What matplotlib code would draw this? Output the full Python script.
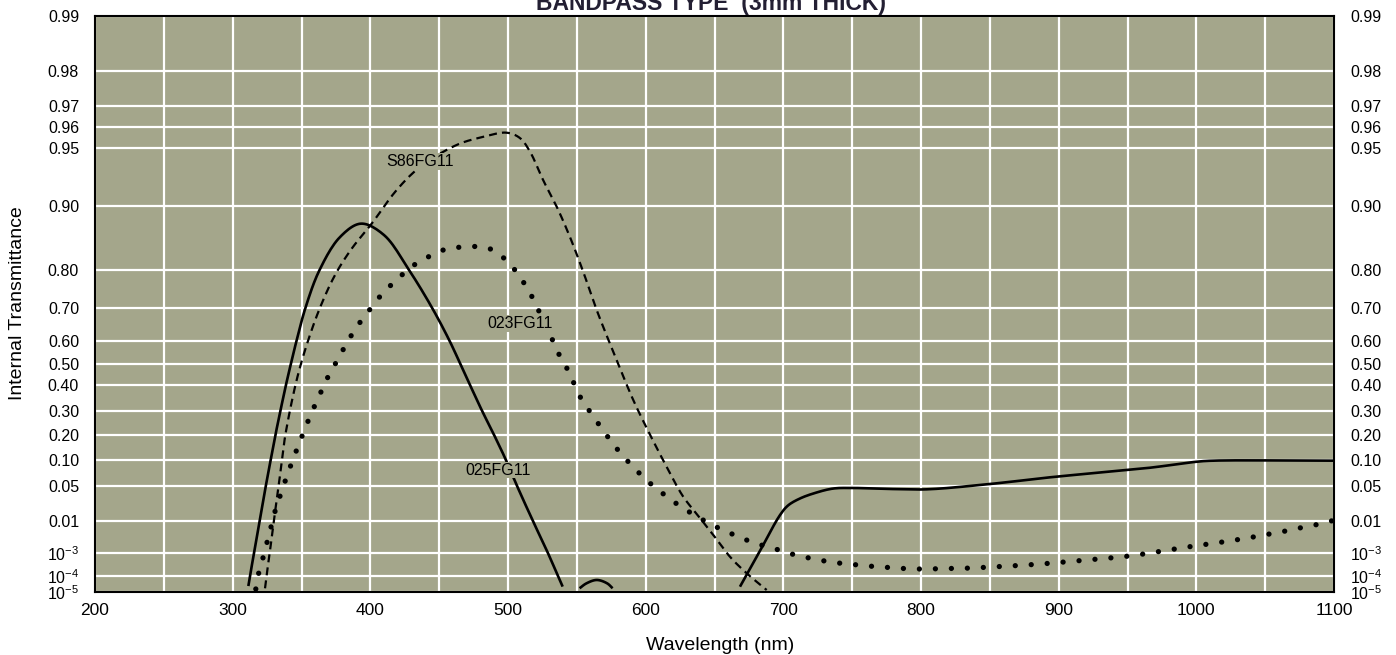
import numpy as np
import matplotlib
matplotlib.use("Agg")
import matplotlib.pyplot as plt
from matplotlib.ticker import NullLocator

plt.rcParams["font.family"] = ["Liberation Sans", "DejaVu Sans"]
plt.rcParams["mathtext.fontset"] = "custom"
plt.rcParams["mathtext.rm"] = "Liberation Sans"
plt.rcParams["mathtext.it"] = "Liberation Sans:italic"
plt.rcParams["mathtext.bf"] = "Liberation Sans:bold"

BG = "#A4A68B"

# ---- transmittance grid values and their heights on the chart (0 = bottom, 1 = top)
y_ticks = [1e-5, 1e-4, 1e-3, 0.01, 0.05, 0.10, 0.20, 0.30, 0.40, 0.50,
           0.60, 0.70, 0.80, 0.90, 0.95, 0.96, 0.97, 0.98, 0.99]
y_tick_frac = [0.0, 0.0278, 0.0677, 0.1233, 0.1845, 0.2292, 0.2731, 0.3148,
               0.3594, 0.3953, 0.4363, 0.4936, 0.5590, 0.6710, 0.7708,
               0.8073, 0.8432, 0.9050, 1.0]
y_tick_labels = [r"$10^{-5}$", r"$10^{-4}$", r"$10^{-3}$", "0.01", "0.05",
                 "0.10", "0.20", "0.30", "0.40", "0.50", "0.60", "0.70",
                 "0.80", "0.90", "0.95", "0.96", "0.97", "0.98", "0.99"]

x_ticks = [200, 300, 400, 500, 600, 700, 800, 900, 1000, 1100]

# ---- 025FG11 (solid), three branches
wl_025a = [311.4, 312.6, 315.5, 319.6, 324.1, 327.6, 331.1, 334.7, 338.7,
           342.2, 346.4, 352.9, 363.1, 378.0, 393.2, 409.9, 428.1, 444.8,
           457.5, 465.5, 472.4, 481.1, 489.8, 498.5, 506.5, 518.1, 529.0,
           536.3, 539.7]
t_025a = [2.5e-5, 1e-4, 1e-3, 0.01, 0.05, 0.10, 0.20, 0.30, 0.40, 0.50,
          0.60, 0.70, 0.80, 0.859, 0.878, 0.862, 0.80, 0.70, 0.60, 0.50,
          0.40, 0.30, 0.20, 0.10, 0.05, 0.01, 1e-3, 1e-4, 2.3e-5]
wl_025b = [552, 557, 564.5, 572, 576]
t_025b = [1.8e-5, 3.7e-5, 5.9e-5, 3.7e-5, 1.8e-5]
wl_025c = [668.5, 683.0, 697.6, 703.4, 712.1, 723.0, 736.1, 749.9, 779.6,
           804.1, 850.1, 893.7, 930.0, 966.3, 1000.3, 1012.1, 1100]
t_025c = [2.27e-5, 1.19e-3, 0.0138, 0.0221, 0.0302, 0.0379, 0.045, 0.046,
          0.0442, 0.0437, 0.0527, 0.064, 0.073, 0.0827, 0.096, 0.0984,
          0.0984]

# ---- S86FG11 (dashed)
wl_s86 = [323.5, 324.6, 326.9, 329.9, 333.4, 335.8, 338.3, 346.5, 354.9,
          364.7, 375.1, 386.7, 401.0, 419.2, 436.1, 462.7, 482.1, 499.1,
          508.7, 516.0, 525.6, 535.4, 545.0, 554.7, 564.4, 578.9, 591.0,
          600.7, 615.3, 627.3, 637.1, 649.1, 661.2, 673.4, 687.9]
t_s86 = [1.78e-5, 1e-4, 1e-3, 0.01, 0.05, 0.10, 0.20, 0.425, 0.602, 0.713,
         0.793, 0.841, 0.878, 0.917, 0.937, 0.9516, 0.9556, 0.9575, 0.955,
         0.9477, 0.926, 0.8986, 0.859, 0.7955, 0.6937, 0.519, 0.341, 0.227,
         0.0842, 0.0325, 0.0146, 0.0041, 7.2e-4, 1.36e-4, 1.37e-5]

# ---- 023FG11 (dotted)
wl_023 = [316.8, 318.8, 321.7, 324.9, 327.8, 330.9, 334.5, 338.2, 342.3,
          346.4, 350.8, 355.1, 359.8, 364.6, 369.7, 375.5, 381.1, 387.1,
          393.7, 400.7, 408.2, 416.2, 425.2, 434.4, 444.8, 455.7, 467.1,
          474.4, 485.8, 495.8, 504.2, 511.3, 517.1, 522.4, 532.6, 537.5,
          542.8, 553.9, 560.4, 567, 574.3, 581.5, 589.6, 598, 607, 616.5,
          626.2, 636.4, 646.5, 657.5, 668.4, 679.8, 691.4, 702.8, 714.4,
          726, 738, 749.6, 761.7, 773.6, 785.5, 797.6, 809.5, 821, 837.6,
          849.2, 861, 872.7, 884.1, 920, 945, 966.5, 978, 989.6, 1001.2,
          1012.6, 1024.2, 1035.9, 1047.3, 1059, 1070.5, 1082.2, 1093.3, 1100]
t_023 = [1.6e-5, 1.3e-4, 5.5e-4, 0.0024, 0.0071, 0.0172, 0.034, 0.058,
         0.0886, 0.135, 0.20, 0.26, 0.322, 0.378, 0.446, 0.512, 0.573,
         0.624, 0.665, 0.70, 0.739, 0.768, 0.795, 0.815, 0.829, 0.840,
         0.843, 0.844, 0.841, 0.826, 0.803, 0.771, 0.735, 0.691, 0.60,
         0.538, 0.481, 0.339, 0.289, 0.232, 0.176, 0.125, 0.0886, 0.065,
         0.0465, 0.0312, 0.0203, 0.0133, 0.0085, 0.0054, 0.0035, 0.0022,
         0.00157, 0.00102, 7.2e-4, 5.3e-4, 4.1e-4, 3.5e-4, 2.95e-4, 2.6e-4,
         2.3e-4, 2.16e-4, 2.2e-4, 2.3e-4, 2.4e-4, 2.66e-4, 2.86e-4, 3.2e-4,
         3.5e-4, 5.3e-4, 7e-4, 1e-3, 0.00126, 0.00153, 0.0019, 0.0022,
         0.0027, 0.0032, 0.004, 0.0048, 0.006, 0.0074, 0.0089, 0.0105]


# ---- double-log transmittance scale, piecewise through the grid values
_xs = -np.log10(-np.log(np.array(y_ticks)))
_us = np.array(y_tick_frac)


def _interp_ext(x, xp, fp):
    x = np.array(x, dtype=float, ndmin=1)
    shape = x.shape
    x = x.ravel()
    y = np.interp(x, xp, fp)
    lo = x < xp[0]
    hi = x > xp[-1]
    y[lo] = fp[0] + (x[lo] - xp[0]) * (fp[1] - fp[0]) / (xp[1] - xp[0])
    y[hi] = fp[-1] + (x[hi] - xp[-1]) * (fp[-1] - fp[-2]) / (xp[-1] - xp[-2])
    return y.reshape(shape)


def forward(t):
    t = np.clip(np.array(t, dtype=float), 1e-300, 1 - 1e-15)
    return _interp_ext(-np.log10(-np.log(t)), _xs, _us)


def inverse(u):
    x = _interp_ext(u, _us, _xs)
    return np.exp(-10.0 ** (-x))


def smooth(wl, t, n=12):
    """Centripetal Catmull-Rom through the points, in chart space."""
    P = np.column_stack([np.asarray(wl, float) * 1.377,
                         forward(np.asarray(t, float)) * 576.0])
    P = np.vstack([2 * P[0] - P[1], P, 2 * P[-1] - P[-2]])
    out = []
    for i in range(1, len(P) - 2):
        p0, p1, p2, p3 = P[i - 1], P[i], P[i + 1], P[i + 2]
        t0 = 0.0
        t1 = t0 + max(np.linalg.norm(p1 - p0), 1e-6) ** 0.5
        t2 = t1 + max(np.linalg.norm(p2 - p1), 1e-6) ** 0.5
        t3 = t2 + max(np.linalg.norm(p3 - p2), 1e-6) ** 0.5
        s = np.linspace(t1, t2, n, endpoint=False)[:, None]
        A1 = (t1 - s) / (t1 - t0) * p0 + (s - t0) / (t1 - t0) * p1
        A2 = (t2 - s) / (t2 - t1) * p1 + (s - t1) / (t2 - t1) * p2
        A3 = (t3 - s) / (t3 - t2) * p2 + (s - t2) / (t3 - t2) * p3
        B1 = (t2 - s) / (t2 - t0) * A1 + (s - t0) / (t2 - t0) * A2
        B2 = (t3 - s) / (t3 - t1) * A2 + (s - t1) / (t3 - t1) * A3
        out.append((t2 - s) / (t2 - t1) * B1 + (s - t1) / (t2 - t1) * B2)
    out.append(P[-2][None, :])
    C = np.vstack(out)
    return C[:, 0] / 1.377, inverse(C[:, 1] / 576.0)


fig = plt.figure(figsize=(13.96, 6.55), dpi=100)
ax = fig.add_axes([95 / 1396, 63 / 655, 1239 / 1396, 576 / 655])
ax.set_facecolor(BG)
ax.set_yscale("function", functions=(forward, inverse))
ax.set_xlim(200, 1100)
ax.set_ylim(1e-5, 0.99)

ax.set_xticks(x_ticks)
ax.set_xticks(np.arange(250, 1100, 100), minor=True)
ax.set_yticks(y_ticks)
ax.set_yticklabels(y_tick_labels)
ax.yaxis.set_minor_locator(NullLocator())
ax.set_axisbelow(True)
ax.grid(which="both", axis="x", color="white", lw=1.6)
ax.grid(which="major", axis="y", color="white", lw=1.6)
ax.tick_params(which="both", length=0)
ax.tick_params(axis="y", labelright=True, pad=11.5, labelsize=11.5)
ax.tick_params(axis="x", pad=8, labelsize=12.5)
for sp in ax.spines.values():
    sp.set_linewidth(1.5)
    sp.set_color("black")

# curves
for wl, t in ((wl_025a, t_025a), (wl_025b, t_025b), (wl_025c, t_025c)):
    x, y = smooth(wl, t)
    ax.plot(x, y, color="black", lw=1.9, solid_capstyle="butt", zorder=3)

x, y = smooth(wl_s86, t_s86)
ax.plot(x, y, color="black", lw=1.6, dashes=(3.6, 2.3), zorder=3)

x, y = smooth(wl_023, t_023, n=6)
ax.plot(x, y, color="black", lw=3.8, dashes=(0.01, 3.02),
        dash_capstyle="round", zorder=3)

# curve names
box = dict(facecolor=BG, edgecolor="none", pad=0.5)
for xt, yt, name in ((436.4, 0.941, "S86FG11"),
                     (508.7, 0.655, "023FG11"),
                     (493.1, 0.0774, "025FG11")):
    ax.text(xt, yt, name, ha="center", va="center", fontsize=11.5,
            bbox=box, zorder=4)

# titles
fig.text(711 / 1396, 1 - 10 / 655, "BANDPASS TYPE  (3mm THICK)",
         ha="center", va="baseline", fontsize=16.5, fontweight="bold",
         color="#231f33")
fig.text(720 / 1396, 1 - 645 / 655, "Wavelength (nm)", ha="center",
         va="center", fontsize=14)
fig.text(18 / 1396, 1 - 303 / 655, "Internal Transmittance", ha="center",
         va="center", rotation=90, fontsize=14)

fig.savefig("out.png", dpi=100, facecolor="white")
